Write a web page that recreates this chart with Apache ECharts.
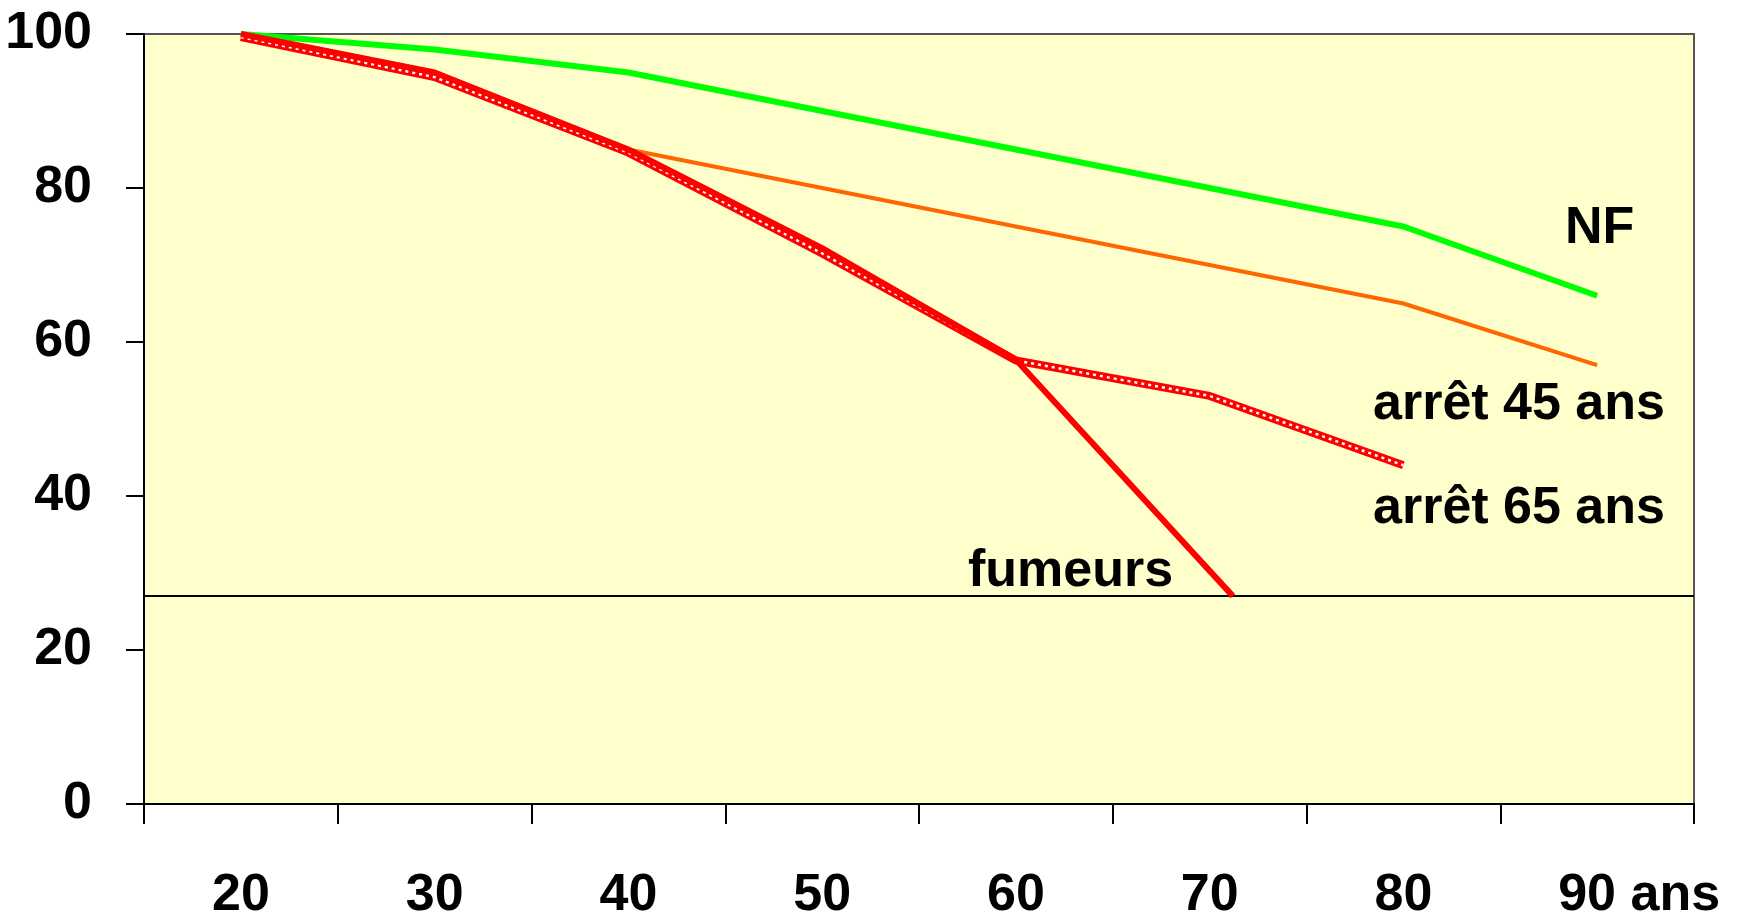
<!DOCTYPE html>
<html>
<head>
<meta charset="utf-8">
<script src="https://cdn.jsdelivr.net/npm/echarts@6/dist/echarts.min.js"></script>
<style>
html,body{margin:0;padding:0;background:#fff;}
#chart{width:1747px;height:922px;}
</style>
</head>
<body>
<div id="chart"></div>
<script>
// Categories (age) and tick labels
const ageLabels = ['20', '30', '40', '50', '60', '70', '80', '90 ans'];
const ages = [20, 30, 40, 50, 60, 70, 80, 90];
const yTicks = [0, 20, 40, 60, 80, 100];

// Series values (% survivants)
const nf = [100, 98, 95, 90, 85, 80, 75, 66];
const arret45Ages = [40, 50, 60, 70, 80, 90];
const arret45 = [85, 80, 75, 70, 65, 57];
const arret65Ages = [20, 30, 40, 50, 60, 70, 80];
const arret65 = [99.6, 94.4, 84.6, 71.5, 57.6, 53, 44];
const fumeursAges = [20, 30, 40, 50, 60, 71.2];
const fumeurs = [100, 95, 85, 72.2, 57.7, 27];
const seuil = 27;

// Labels
const seriesNames = ['NF', 'arrêt 45 ans', 'arrêt 65 ans', 'fumeurs'];

function pairs(xs, ys) { return xs.map((x, i) => [x, ys[i]]); }

const chart = echarts.init(document.getElementById('chart'));
const FONT = '"Liberation Sans", Arial, sans-serif';

const catData = ageLabels.map((l, i) => i === ageLabels.length - 1
  ? { value: l, textStyle: { padding: [0, 0, 0, 84] } }
  : l);

chart.setOption({
  animation: false,
  backgroundColor: '#ffffff',
  grid: {
    left: 144, right: 53, top: 34, bottom: 117,
    show: true, backgroundColor: '#ffffcc',
    borderColor: '#555', borderWidth: 2
  },
  xAxis: [
    {
      type: 'category', data: catData, boundaryGap: true,
      position: 'bottom',
      axisLine: { show: true, lineStyle: { color: '#000', width: 2 } },
      axisTick: { show: true, interval: 0, length: 20, inside: false, lineStyle: { color: '#000', width: 2 } },
      axisLabel: { interval: 0, margin: 66, color: '#000', fontSize: 52, fontWeight: 'bold', fontFamily: FONT },
      splitLine: { show: false }
    },
    {
      type: 'value', min: 15, max: 95, show: false, position: 'bottom'
    }
  ],
  yAxis: {
    type: 'value', min: yTicks[0], max: yTicks[yTicks.length - 1], interval: 20,
    axisLine: { show: true, lineStyle: { color: '#000', width: 2 } },
    axisTick: { show: true, length: 18, lineStyle: { color: '#000', width: 2 } },
    axisLabel: { margin: 52, color: '#000', fontSize: 52, fontWeight: 'bold', fontFamily: FONT },
    splitLine: { show: false }
  },
  series: [
    {
      name: seriesNames[0], type: 'line', xAxisIndex: 1, data: pairs(ages, nf),
      showSymbol: false, lineStyle: { color: '#00ff00', width: 6 }, z: 2
    },
    {
      name: seriesNames[1], type: 'line', xAxisIndex: 1, data: pairs(arret45Ages, arret45),
      showSymbol: false, lineStyle: { color: '#ff6600', width: 4 }, z: 2
    },
    {
      name: seriesNames[2], type: 'line', xAxisIndex: 1, data: pairs(arret65Ages, arret65),
      showSymbol: false, lineStyle: { color: '#ff0000', width: 8 }, z: 3
    },
    {
      name: seriesNames[2] + ' motif', type: 'line', xAxisIndex: 1, data: pairs(arret65Ages, arret65),
      showSymbol: false, lineStyle: { color: '#ffffff', width: 2.5, type: [3, 4] }, z: 4
    },
    {
      name: seriesNames[3], type: 'line', xAxisIndex: 1, data: pairs(fumeursAges, fumeurs),
      showSymbol: false, lineStyle: { color: '#ff0000', width: 6 }, z: 5,
      markLine: {
        silent: true, symbol: 'none', label: { show: false },
        lineStyle: { color: '#000', width: 2, type: 'solid' },
        data: [{ yAxis: seuil }]
      }
    }
  ],
  graphic: [
    { type: 'text', left: 1565, top: 203, style: { text: seriesNames[0], font: 'bold 52px ' + FONT, fill: '#000' } },
    { type: 'text', left: 1373, top: 379, style: { text: seriesNames[1], font: 'bold 52px ' + FONT, fill: '#000' } },
    { type: 'text', left: 1373, top: 483, style: { text: seriesNames[2], font: 'bold 52px ' + FONT, fill: '#000' } },
    { type: 'text', left: 968, top: 546, style: { text: seriesNames[3], font: 'bold 52px ' + FONT, fill: '#000' } }
  ]
});
</script>
</body>
</html>
